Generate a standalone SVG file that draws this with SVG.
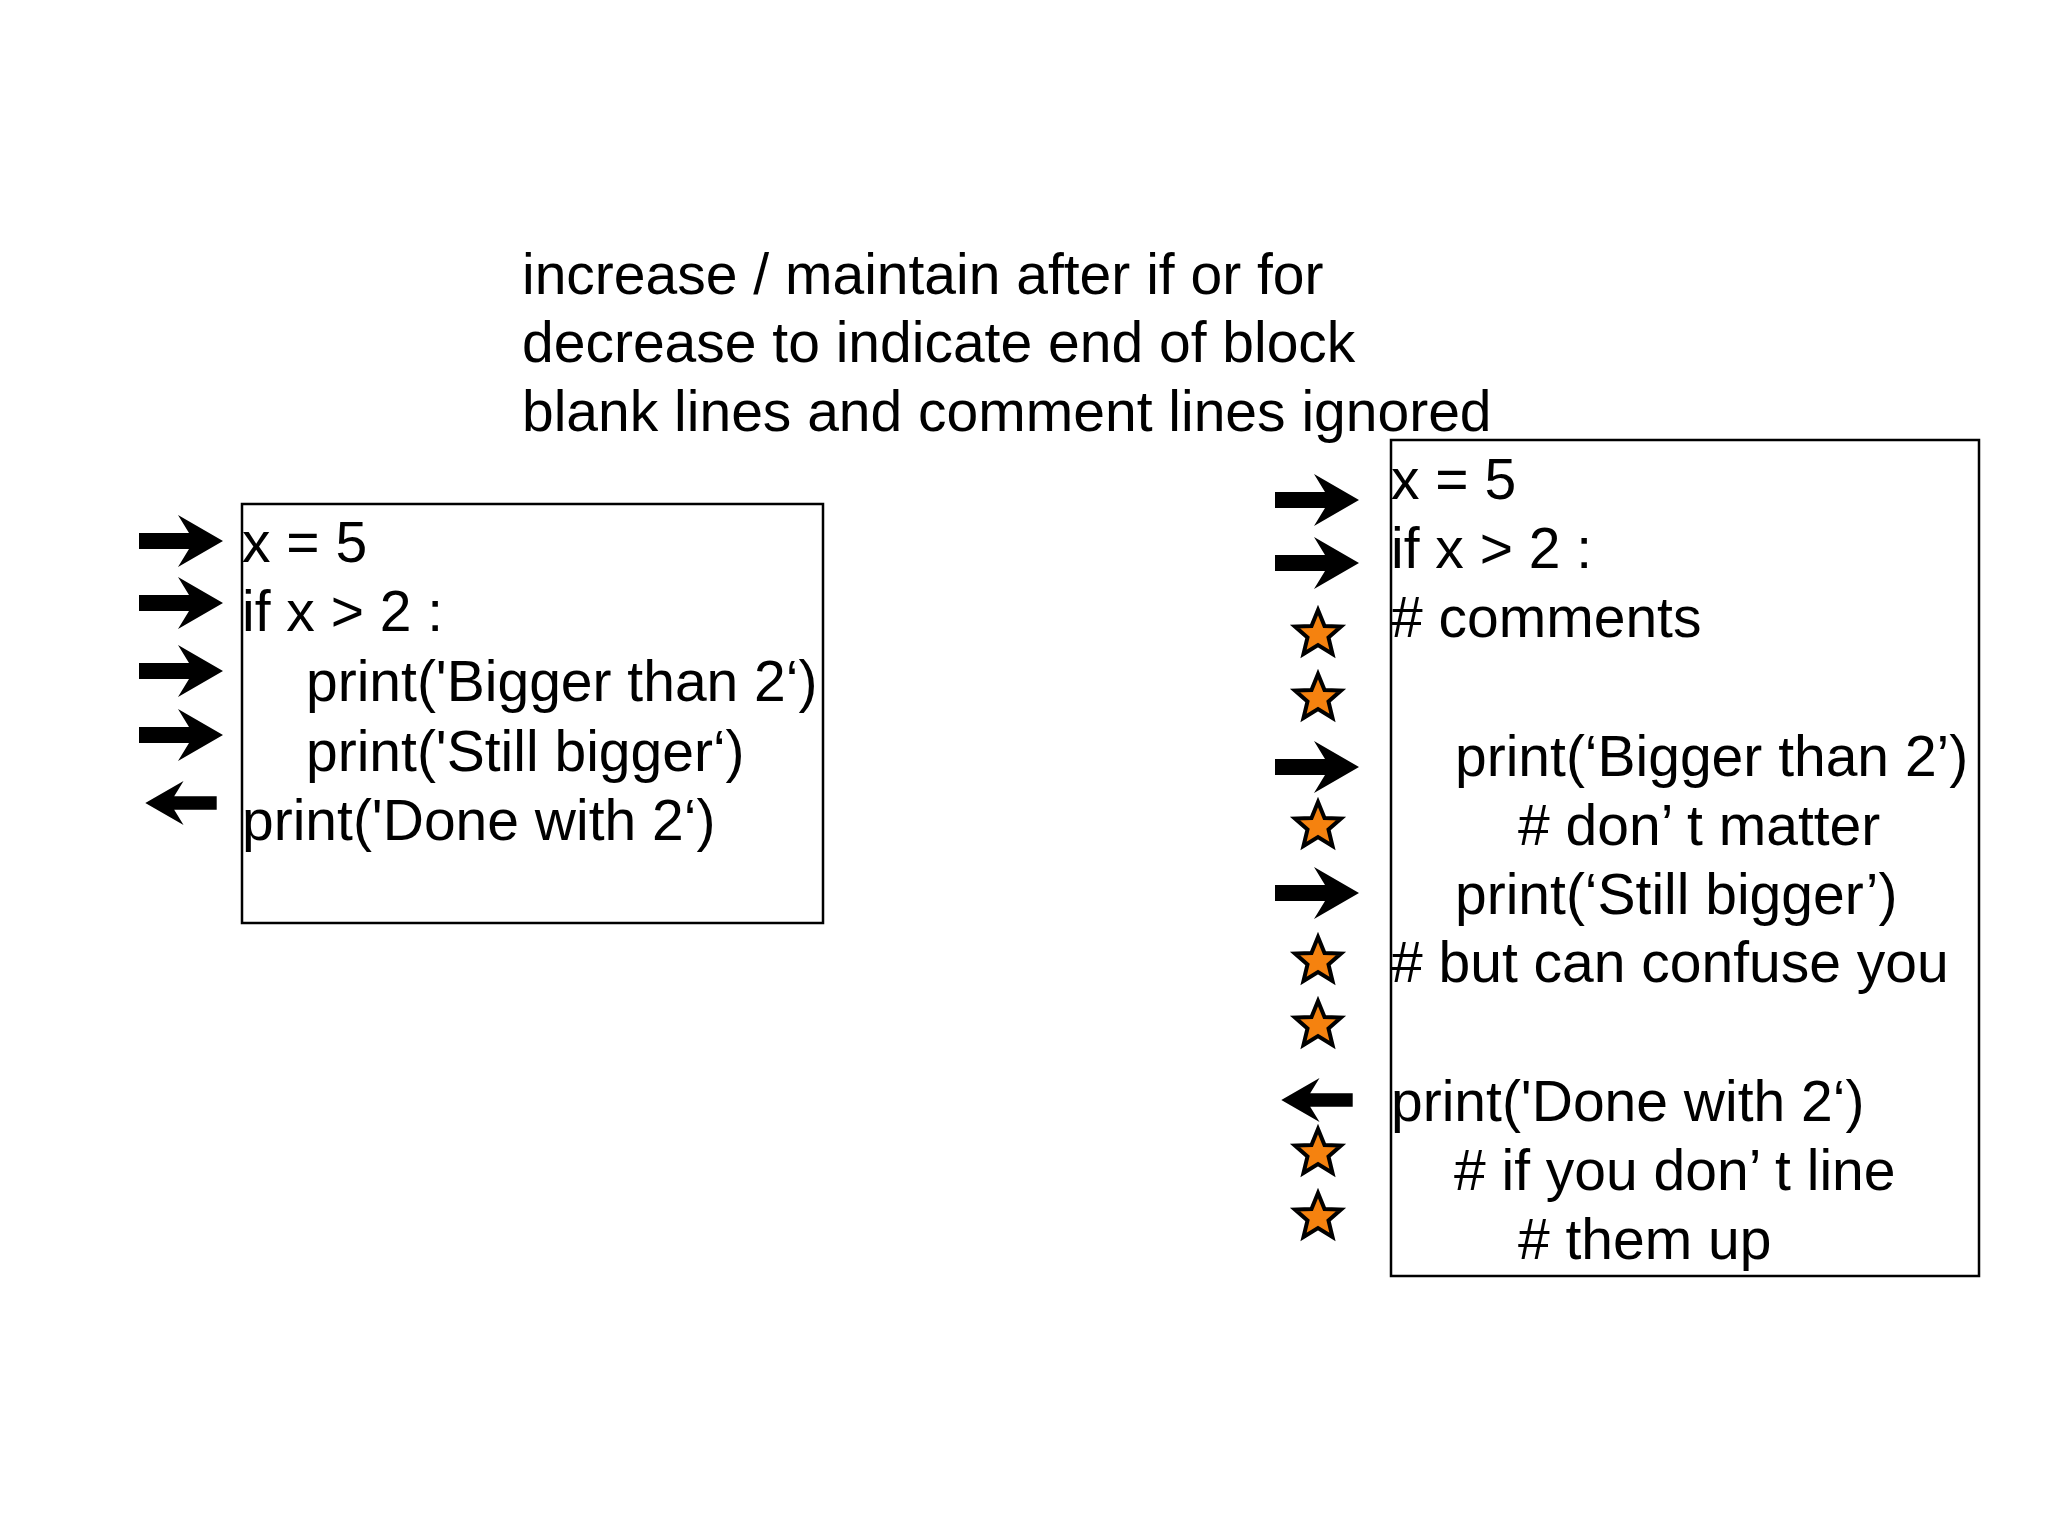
<svg xmlns="http://www.w3.org/2000/svg" width="2048" height="1536" viewBox="0 0 2048 1536">
<style>
text{font-family:"Liberation Sans",Arial,sans-serif;font-size:57px;fill:#000}
.box{fill:none;stroke:#000;stroke-width:2.5}
.star{fill:#F5820F;stroke:#000;stroke-width:4;stroke-linejoin:miter}
</style>
<defs>
<path id="ar" d="M-42,-8 L8,-8 L-3,-26 L42,0 L-3,26 L8,8 L-42,8 Z" fill="#000"/>
<path id="al" d="M-42,-8 L8,-8 L-3,-26 L42,0 L-3,26 L8,8 L-42,8 Z" fill="#000" transform="scale(-0.85,0.85)"/>
<polygon id="st" class="star" points="0,-24 6.5,-8 23,-7.5 10.5,3.5 14.5,20 0,11 -14.5,20 -10.5,3.5 -23,-7.5 -6.5,-8"/>
</defs>
<rect width="2048" height="1536" fill="#fff"/>
<g id="title">
<text x="522" y="294">increase / maintain after if or for</text>
<text x="522" y="362">decrease to indicate end of block</text>
<text x="522" y="431">blank lines and comment lines ignored</text>
</g>
<g id="left-box">
<rect class="box" x="242" y="504" width="581" height="419"/>
<text x="242" y="562">x = 5</text>
<text x="242" y="631">if x &gt; 2 :</text>
<text x="306" y="701">print('Bigger than 2‘)</text>
<text x="306" y="771">print('Still bigger‘)</text>
<text x="242" y="840">print('Done with 2‘)</text>
</g>
<g id="left-markers">
<use href="#ar" x="181" y="541"/>
<use href="#ar" x="181" y="603"/>
<use href="#ar" x="181" y="671"/>
<use href="#ar" x="181" y="735"/>
<use href="#al" x="181" y="803"/>
</g>
<g id="right-box">
<rect class="box" x="1391" y="440" width="588" height="836"/>
<text x="1391" y="499">x = 5</text>
<text x="1391" y="568">if x &gt; 2 :</text>
<text x="1391" y="637"># comments</text>
<text x="1455" y="776">print(‘Bigger than 2’)</text>
<text x="1518" y="845"># don’ t matter</text>
<text x="1455" y="914">print(‘Still bigger’)</text>
<text x="1391" y="982"># but can confuse you</text>
<text x="1391" y="1121">print('Done with 2‘)</text>
<text x="1454" y="1190"># if you don’ t line</text>
<text x="1518" y="1259"># them up</text>
</g>
<g id="right-markers">
<use href="#ar" x="1317" y="500"/>
<use href="#ar" x="1317" y="563"/>
<use href="#ar" x="1317" y="767"/>
<use href="#ar" x="1317" y="893"/>
<use href="#al" x="1317" y="1100"/>
<use href="#st" x="1318" y="634"/>
<use href="#st" x="1318" y="698"/>
<use href="#st" x="1318" y="826"/>
<use href="#st" x="1318" y="961"/>
<use href="#st" x="1318" y="1025"/>
<use href="#st" x="1318" y="1153"/>
<use href="#st" x="1318" y="1217"/>
</g>
</svg>
